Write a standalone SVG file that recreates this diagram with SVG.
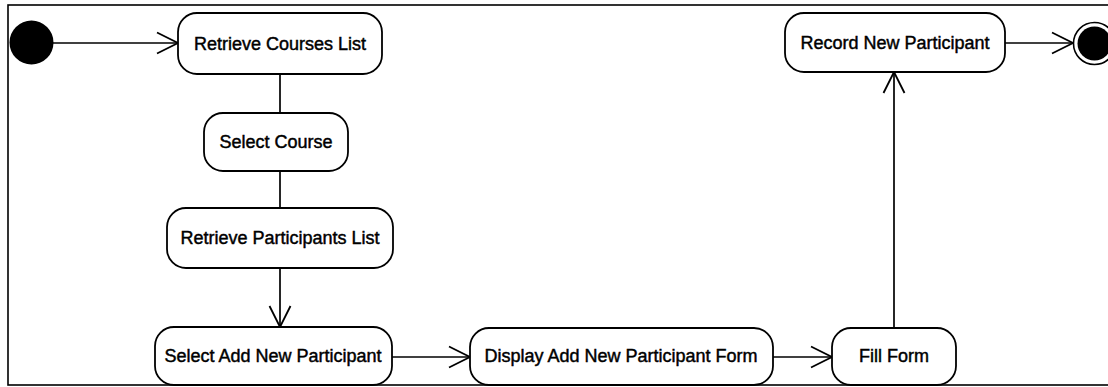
<svg xmlns="http://www.w3.org/2000/svg" width="1108" height="387" viewBox="0 0 1108 387">
  <style>
    .act { fill: #ffffff; stroke: #000000; stroke-width: 1.8; }
    .lbl { font-family: "Liberation Sans", Arial, sans-serif; font-size: 18px; fill: #000000; stroke: #000000; stroke-width: 0.45; text-anchor: middle; }
    .edge { fill: none; stroke: #000000; stroke-width: 1.7; }
    .frame { fill: none; stroke: #000000; stroke-width: 1.6; }
  </style>
  <defs>
    <marker id="open" viewBox="0 0 24 24" refX="22" refY="12" markerWidth="24" markerHeight="24" markerUnits="userSpaceOnUse" orient="auto">
      <path d="M1,1.5 L22,12 L1,22.5" fill="none" stroke="#000000" stroke-width="1.8"/>
    </marker>
  </defs>

  <rect width="1108" height="387" fill="#ffffff"/>
  <!-- diagram frame, right side runs past the edge -->
  <rect class="frame" x="8" y="5" width="1120" height="380"/>

  <g id="connectors">
    <line class="edge" x1="53" y1="43" x2="178" y2="43" marker-end="url(#open)"/>
    <line class="edge" x1="280" y1="74" x2="280" y2="113"/>
    <line class="edge" x1="280" y1="171" x2="280" y2="208"/>
    <line class="edge" x1="280" y1="268" x2="280" y2="327" marker-end="url(#open)"/>
    <line class="edge" x1="392" y1="357" x2="470" y2="357" marker-end="url(#open)"/>
    <line class="edge" x1="773" y1="357" x2="832" y2="357" marker-end="url(#open)"/>
    <line class="edge" x1="894" y1="328" x2="894" y2="72" marker-end="url(#open)"/>
    <line class="edge" x1="1005" y1="43" x2="1073" y2="43" marker-end="url(#open)"/>
  </g>

  <g id="start">
    <circle cx="31.5" cy="42.5" r="22" fill="#000000"/>
  </g>

  <g id="retrieve-courses">
    <rect class="act" x="178" y="13" width="204" height="61" rx="19"/>
    <text class="lbl" x="280" y="50">Retrieve Courses List</text>
  </g>

  <g id="select-course">
    <rect class="act" x="204" y="113" width="144" height="58" rx="19"/>
    <text class="lbl" x="276" y="148">Select Course</text>
  </g>

  <g id="retrieve-participants">
    <rect class="act" x="167" y="208" width="226" height="60" rx="19"/>
    <text class="lbl" x="280" y="244">Retrieve Participants List</text>
  </g>

  <g id="select-add">
    <rect class="act" x="155" y="327" width="237" height="58" rx="19"/>
    <text class="lbl" x="273" y="362">Select Add New Participant</text>
  </g>

  <g id="display-form">
    <rect class="act" x="470" y="328" width="303" height="57" rx="19"/>
    <text class="lbl" x="621" y="362">Display Add New Participant Form</text>
  </g>

  <g id="fill-form">
    <rect class="act" x="832" y="328" width="124" height="57" rx="19"/>
    <text class="lbl" x="894" y="362">Fill Form</text>
  </g>

  <g id="record-participant">
    <rect class="act" x="785" y="13" width="220" height="59" rx="19"/>
    <text class="lbl" x="895" y="49">Record New Participant</text>
  </g>

  <g id="end">
    <circle cx="1094.5" cy="43.5" r="21" fill="#ffffff" stroke="#000000" stroke-width="1.6"/>
    <circle cx="1094.5" cy="43.5" r="17" fill="#000000"/>
  </g>
</svg>
